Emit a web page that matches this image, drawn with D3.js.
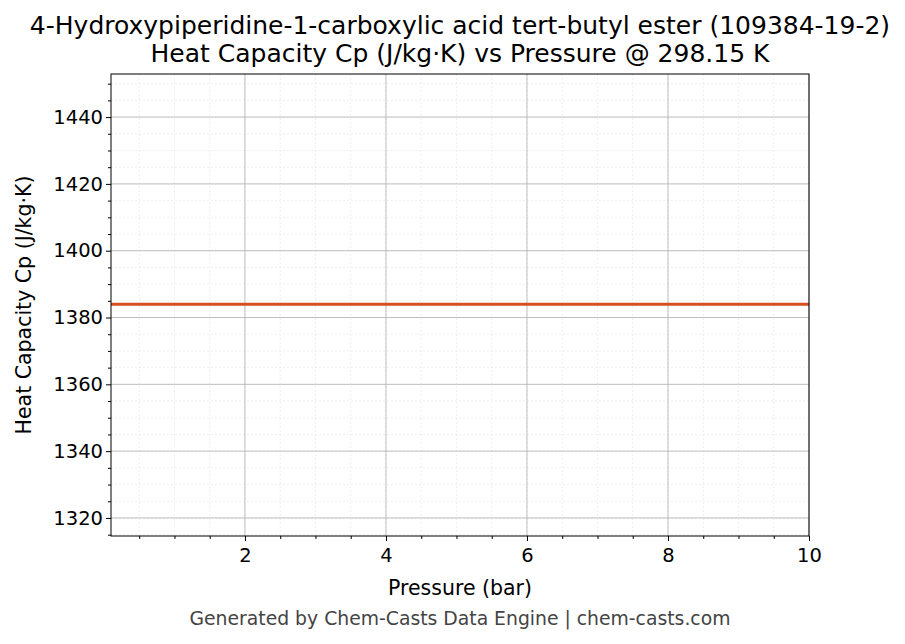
<!DOCTYPE html>
<html><head><meta charset="utf-8">
<script src="https://cdn.jsdelivr.net/npm/d3@7"></script>
<style>body{margin:0;background:#fff;font-family:"DejaVu Sans",sans-serif}</style>
</head><body><svg id="c" width="905" height="644"></svg>
<script>
const pressures = [0.1, 1, 2, 3, 4, 5, 6, 7, 8, 9, 10];
const cpValues = [1384, 1384, 1384, 1384, 1384, 1384, 1384, 1384, 1384, 1384, 1384];
const xTicks = [2, 4, 6, 8, 10];
const yTicks = [1320, 1340, 1360, 1380, 1400, 1420, 1440];
const title1 = "4-Hydroxypiperidine-1-carboxylic acid tert-butyl ester (109384-19-2)";
const title2 = "Heat Capacity Cp (J/kg·K) vs Pressure @ 298.15 K";

const svg = d3.select("#c");
const L=111,R=809,T=74,B=536;
const x = d3.scaleLinear().domain([0.1,10]).range([L,R]);
const y = d3.scaleLinear().domain([1314.6,1452.9]).range([B,T]);
const g = svg.append("g");
const xMinor = d3.range(0.5,10.01,0.5), yMinor = d3.range(1315,1453,5);
g.selectAll(".xm").data(xMinor).join("line").attr("x1",d=>x(d)).attr("x2",d=>x(d)).attr("y1",T).attr("y2",B).attr("stroke","#e4e4e4").attr("stroke-width",0.6).attr("stroke-dasharray","2,2");
g.selectAll(".ym").data(yMinor).join("line").attr("y1",d=>y(d)).attr("y2",d=>y(d)).attr("x1",L).attr("x2",R).attr("stroke","#e4e4e4").attr("stroke-width",0.6).attr("stroke-dasharray","2,2");
g.selectAll(".xg").data(xTicks).join("line").attr("x1",d=>x(d)).attr("x2",d=>x(d)).attr("y1",T).attr("y2",B).attr("stroke","#b0b0b0").attr("stroke-width",0.8);
g.selectAll(".yg").data(yTicks).join("line").attr("y1",d=>y(d)).attr("y2",d=>y(d)).attr("x1",L).attr("x2",R).attr("stroke","#b0b0b0").attr("stroke-width",0.8);
svg.append("path").datum(pressures.map((p,i)=>[p,cpValues[i]]))
  .attr("d",d3.line().x(d=>x(d[0])).y(d=>y(d[1]))).attr("fill","none").attr("stroke","#d6501e").attr("stroke-width",3);
svg.append("rect").attr("x",L).attr("y",T).attr("width",R-L).attr("height",B-T).attr("fill","none").attr("stroke","#000").attr("stroke-width",1);
const xa = svg.append("g").attr("transform",`translate(0,${B})`).call(d3.axisBottom(x).tickValues(xTicks).tickFormat(d3.format("d")).tickSize(5).tickSizeOuter(0));
svg.append("g").attr("transform",`translate(0,${B})`).call(d3.axisBottom(x).tickValues(xMinor.filter(v=>!xTicks.includes(v))).tickFormat("").tickSize(3).tickSizeOuter(0));
const ya = svg.append("g").attr("transform",`translate(${L},0)`).call(d3.axisLeft(y).tickValues(yTicks).tickFormat(d3.format("d")).tickSize(5).tickSizeOuter(0));
svg.append("g").attr("transform",`translate(${L},0)`).call(d3.axisLeft(y).tickValues(yMinor.filter(v=>!yTicks.includes(v))).tickFormat("").tickSize(3).tickSizeOuter(0));
svg.selectAll(".domain").remove();
svg.selectAll(".tick text").attr("font-size",19.5).attr("fill","#000").attr("font-family","DejaVu Sans");
xa.selectAll(".tick text").attr("dy","0.9em");
svg.append("text").attr("x",460).attr("y",595).attr("text-anchor","middle").attr("font-size",20.5).text("Pressure (bar)");
svg.append("text").attr("transform","translate(31,305) rotate(-90)").attr("text-anchor","middle").attr("font-size",20.5).text("Heat Capacity Cp (J/kg·K)");
svg.append("text").attr("x",460).attr("y",34).attr("text-anchor","middle").attr("font-size",25).text(title1);
svg.append("text").attr("x",460).attr("y",62).attr("text-anchor","middle").attr("font-size",25).text(title2);
svg.append("text").attr("x",460).attr("y",625).attr("text-anchor","middle").attr("font-size",18.8).attr("fill","#444").text("Generated by Chem-Casts Data Engine | chem-casts.com");
</script></body></html>
